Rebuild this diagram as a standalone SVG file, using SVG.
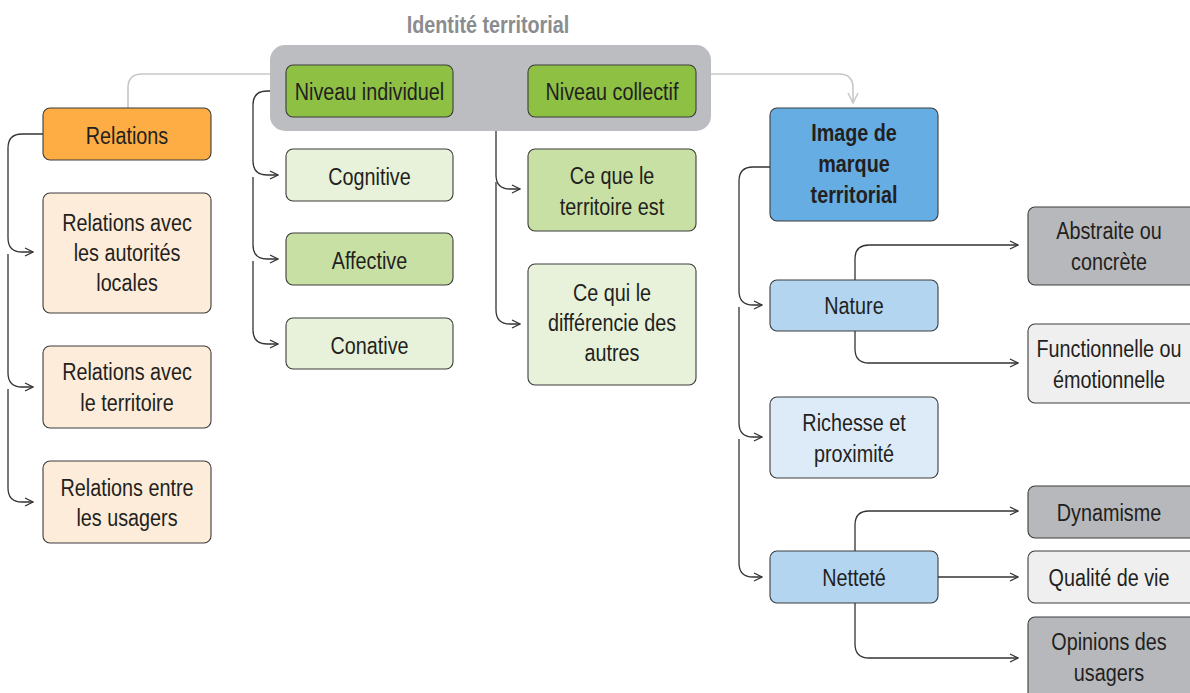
<svg xmlns="http://www.w3.org/2000/svg" width="1190" height="693" viewBox="0 0 1190 693">
<defs>
<style>
text{font-family:"Liberation Sans",Arial,sans-serif;font-size:23px;fill:#231f20;text-anchor:middle}
.bt{font-weight:bold}
.b{stroke:#3c3c3c;stroke-width:1.1}
.c{fill:none;stroke:#333;stroke-width:1.3}
.g{fill:none;stroke:#c6c7c9;stroke-width:1.6}
.or{fill:#fdad43}.pe{fill:#fdecd9}
.gd{fill:#8dc043}.gm{fill:#c8e0a4}.gl{fill:#e8f2da}
.bd{fill:#66ade3}.bm{fill:#b3d5f0}.bl{fill:#ddebf8}
.gy{fill:#b7b8bb}.lg{fill:#efefef}
</style>
<marker id="a" viewBox="0 0 10 10" refX="9" refY="5" markerWidth="10" markerHeight="10" markerUnits="userSpaceOnUse" orient="auto">
<path d="M1,1 L9,5 L1,9" fill="none" stroke="#333" stroke-width="1.3"/>
</marker>
<marker id="ag" viewBox="0 0 12 12" refX="11" refY="6" markerWidth="12" markerHeight="12" markerUnits="userSpaceOnUse" orient="auto">
<path d="M1,1 L11,6 L1,11" fill="none" stroke="#c6c7c9" stroke-width="1.5"/>
</marker>
</defs>

<text transform="translate(488,33) scale(0.86,1)" style="font-weight:bold;fill:#8a8c8f;font-size:23px">Identité territorial</text>

<g id="connectors">
<path class="g" d="M270,74 H142 Q128,74 128,88 V108"/>
<path class="g" d="M711,74 H839 Q853,74 853,88 V103" marker-end="url(#ag)"/>
<path class="c" d="M43,134 H22 Q8,134 8,148 V238 Q8,252 22,252 H33" marker-end="url(#a)"/>
<path class="c" d="M8,254 V373 Q8,387 22,387 H33" marker-end="url(#a)"/>
<path class="c" d="M8,389 V488 Q8,502 22,502 H33" marker-end="url(#a)"/>
<path class="c" d="M286,91 H267 Q253,91 253,105 V161 Q253,175 267,175 H278" marker-end="url(#a)"/>
<path class="c" d="M253,177 V245 Q253,259 267,259 H278" marker-end="url(#a)"/>
<path class="c" d="M253,261 V330 Q253,344 267,344 H278" marker-end="url(#a)"/>
<path class="c" d="M528,91 H510 Q496,91 496,105 V175 Q496,189 510,189 H520" marker-end="url(#a)"/>
<path class="c" d="M496,182 V310 Q496,324 510,324 H520" marker-end="url(#a)"/>
<path class="c" d="M770,167 H753 Q739,167 739,181 V291 Q739,305 753,305 H762" marker-end="url(#a)"/>
<path class="c" d="M739,307 V423 Q739,437 753,437 H762" marker-end="url(#a)"/>
<path class="c" d="M739,439 V563 Q739,577 753,577 H762" marker-end="url(#a)"/>
<path class="c" d="M855,280 V259 Q855,245 869,245 H1018" marker-end="url(#a)"/>
<path class="c" d="M855,331 V349 Q855,363 869,363 H1018" marker-end="url(#a)"/>
<path class="c" d="M855,551 V525 Q855,511 869,511 H1018" marker-end="url(#a)"/>
<path class="c" d="M938,577 H1018" marker-end="url(#a)"/>
<path class="c" d="M855,603 V644 Q855,658 869,658 H1018" marker-end="url(#a)"/>
</g>

<g id="identite">
<rect x="270" y="45" width="441" height="86" rx="15" fill="#bcbdc0"/>
</g>
<g id="niveau-individuel"><rect class="b gd" x="286" y="65" width="167" height="52" rx="7"/><text transform="translate(369.5,100) scale(0.86,1)">Niveau individuel</text></g>
<g id="niveau-collectif"><rect class="b gd" x="528" y="65" width="168" height="52" rx="7"/><text transform="translate(612,100) scale(0.86,1)">Niveau collectif</text></g>

<g id="relations"><rect class="b or" x="43" y="108" width="168" height="52" rx="7"/><text transform="translate(127,144) scale(0.86,1)">Relations</text></g>
<g id="rel-autorites"><rect class="b pe" x="43" y="193" width="168" height="120" rx="7"/><text transform="translate(127,231) scale(0.86,1)"><tspan x="0" y="0">Relations avec</tspan><tspan x="0" y="30">les autorités</tspan><tspan x="0" y="60">locales</tspan></text></g>
<g id="rel-territoire"><rect class="b pe" x="43" y="346" width="168" height="82" rx="7"/><text transform="translate(127,380) scale(0.86,1)"><tspan x="0" y="0">Relations avec</tspan><tspan x="0" y="31">le territoire</tspan></text></g>
<g id="rel-usagers"><rect class="b pe" x="43" y="461" width="168" height="82" rx="7"/><text transform="translate(127,496) scale(0.86,1)"><tspan x="0" y="0">Relations entre</tspan><tspan x="0" y="30">les usagers</tspan></text></g>

<g id="cognitive"><rect class="b gl" x="286" y="149" width="167" height="52" rx="7"/><text transform="translate(369.5,185) scale(0.86,1)">Cognitive</text></g>
<g id="affective"><rect class="b gm" x="286" y="233" width="167" height="52" rx="7"/><text transform="translate(369.5,269) scale(0.86,1)">Affective</text></g>
<g id="conative"><rect class="b gl" x="286" y="318" width="167" height="51" rx="7"/><text transform="translate(369.5,354) scale(0.86,1)">Conative</text></g>

<g id="ce-que"><rect class="b gm" x="528" y="149" width="168" height="82" rx="7"/><text transform="translate(612,184) scale(0.86,1)"><tspan x="0" y="0">Ce que le</tspan><tspan x="0" y="31">territoire est</tspan></text></g>
<g id="ce-qui"><rect class="b gl" x="528" y="264" width="168" height="121" rx="7"/><text transform="translate(612,301) scale(0.86,1)"><tspan x="0" y="0">Ce qui le</tspan><tspan x="0" y="30">différencie des</tspan><tspan x="0" y="60">autres</tspan></text></g>

<g id="image-marque"><rect class="b bd" x="770" y="108" width="168" height="113" rx="7"/><text class="bt" transform="translate(854,141) scale(0.86,1)"><tspan x="0" y="0">Image de</tspan><tspan x="0" y="31">marque</tspan><tspan x="0" y="62">territorial</tspan></text></g>
<g id="nature"><rect class="b bm" x="770" y="280" width="168" height="51" rx="7"/><text transform="translate(854,314) scale(0.86,1)">Nature</text></g>
<g id="richesse"><rect class="b bl" x="770" y="397" width="168" height="81" rx="7"/><text transform="translate(854,431) scale(0.86,1)"><tspan x="0" y="0">Richesse et</tspan><tspan x="0" y="31">proximité</tspan></text></g>
<g id="nettete"><rect class="b bm" x="770" y="551" width="168" height="52" rx="7"/><text transform="translate(854,586) scale(0.86,1)">Netteté</text></g>

<g id="abstraite"><rect class="b gy" x="1028" y="207" width="170" height="78" rx="7"/><text transform="translate(1109,239) scale(0.86,1)"><tspan x="0" y="0">Abstraite ou</tspan><tspan x="0" y="31">concrète</tspan></text></g>
<g id="functionnelle"><rect class="b lg" x="1028" y="324" width="170" height="79" rx="7"/><text transform="translate(1109,357) scale(0.86,1)"><tspan x="0" y="0">Functionnelle ou</tspan><tspan x="0" y="31">émotionnelle</tspan></text></g>
<g id="dynamisme"><rect class="b gy" x="1028" y="486" width="170" height="52" rx="7"/><text transform="translate(1109,521) scale(0.86,1)">Dynamisme</text></g>
<g id="qualite"><rect class="b lg" x="1028" y="551" width="170" height="52" rx="7"/><text transform="translate(1109,586) scale(0.86,1)">Qualité de vie</text></g>
<g id="opinions"><rect class="b gy" x="1028" y="617" width="170" height="90" rx="7"/><text transform="translate(1109,650) scale(0.86,1)"><tspan x="0" y="0">Opinions des</tspan><tspan x="0" y="31">usagers</tspan></text></g>
</svg>
